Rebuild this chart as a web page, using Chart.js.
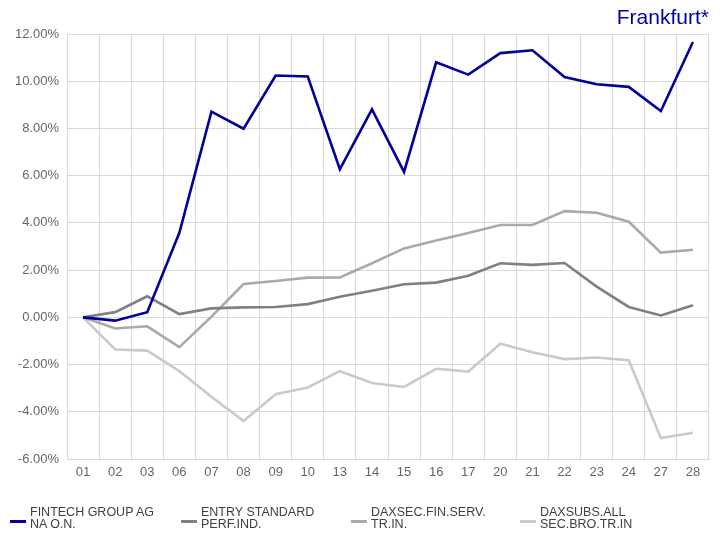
<!DOCTYPE html>
<html>
<head>
<meta charset="utf-8">
<script src="https://cdn.jsdelivr.net/npm/chart.js@4.4.1/dist/chart.umd.min.js"></script>
<style>
  html, body { margin: 0; padding: 0; background: #fff; }
  #wrap { position: relative; width: 724px; height: 533px; overflow: hidden; font-family: "Liberation Sans", Arial, sans-serif; }
  #c { position: absolute; left: 0; top: 0; }
  #title { position: absolute; right: 15px; top: 5px; font-size: 21px; line-height: 24px; color: #00009c; white-space: nowrap; }
  .lg { position: absolute; top: 506px; }
  .lg .mk { position: absolute; left: -20px; top: 14px; width: 16px; height: 3px; }
  .lg .tx { font-size: 12.5px; line-height: 12px; color: #404040; white-space: nowrap; }
</style>
</head>
<body>
<div id="wrap">
  <canvas id="c" width="724" height="533"></canvas>
  <div id="title">Frankfurt*</div>
  <div id="legend"></div>
</div>
<script>
const categories = ["01","02","03","06","07","08","09","10","13","14","15","16","17","20","21","22","23","24","27","28"];
const seriesNames = [["FINTECH GROUP AG","NA O.N."],["ENTRY STANDARD","PERF.IND."],["DAXSEC.FIN.SERV.","TR.IN."],["DAXSUBS.ALL","SEC.BRO.TR.IN"]];
const fintech   = [0, -0.14, 0.22, 3.58, 8.71, 7.99, 10.24, 10.20, 6.27, 8.81, 6.16, 10.80, 10.28, 11.19, 11.31, 10.18, 9.87, 9.76, 8.74, 11.66];
const entryStd  = [0, 0.22, 0.89, 0.14, 0.38, 0.42, 0.44, 0.56, 0.87, 1.13, 1.40, 1.47, 1.76, 2.29, 2.22, 2.30, 1.30, 0.44, 0.08, 0.51];
const daxsecFin = [0, -0.47, -0.38, -1.26, 0.03, 1.41, 1.54, 1.68, 1.69, 2.29, 2.92, 3.25, 3.57, 3.91, 3.91, 4.50, 4.43, 4.05, 2.74, 2.86];
const daxsubsBro= [0, -1.36, -1.41, -2.28, -3.36, -4.39, -3.26, -2.97, -2.28, -2.78, -2.95, -2.18, -2.30, -1.12, -1.48, -1.77, -1.70, -1.82, -5.11, -4.89];
const yTicks = [-6, -4, -2, 0, 2, 4, 6, 8, 10, 12];

const colors = ["#00009c", "#808080", "#a9a9a9", "#cacaca"];
const values = [fintech, entryStd, daxsecFin, daxsubsBro];
const legendX = [30, 201, 371, 540];

const FONT = "'Liberation Sans', Arial, sans-serif";

new Chart(document.getElementById('c'), {
  type: 'line',
  data: {
    labels: categories,
    datasets: values.map((v, i) => ({
      label: seriesNames[i].join(' '),
      data: v,
      borderColor: colors[i],
      backgroundColor: colors[i],
      borderWidth: 2.6,
      pointRadius: 0,
      tension: 0,
      fill: false
    }))
  },
  options: {
    responsive: false,
    animation: false,
    layout: { padding: { left: 0, right: 15, top: 34, bottom: 50 } },
    plugins: { legend: { display: false }, title: { display: false }, tooltip: { enabled: false } },
    scales: {
      x: {
        offset: true,
        grid: { offset: true, color: '#d9d9d9', lineWidth: 1, drawTicks: false },
        border: { display: true, color: '#d9d9d9' },
        ticks: { color: '#666666', font: { family: FONT, size: 13 }, padding: 6, maxRotation: 0, autoSkip: false },
        afterFit: s => { s.height = 24; }
      },
      y: {
        min: -6, max: 12,
        afterBuildTicks: s => { s.ticks = yTicks.map(v => ({ value: v })); },
        grid: { color: '#d9d9d9', lineWidth: 1, drawTicks: false },
        border: { display: true, color: '#d9d9d9' },
        ticks: { color: '#666666', font: { family: FONT, size: 13 }, padding: 8, callback: v => v.toFixed(2) + '%' },
        afterFit: s => { s.width = 67; }
      }
    }
  }
});

const lg = document.getElementById('legend');
seriesNames.forEach((n, i) => {
  const d = document.createElement('div');
  d.className = 'lg';
  d.style.left = legendX[i] + 'px';
  d.innerHTML = '<div class="mk" style="background:' + colors[i] + '"></div><div class="tx">' + n[0] + '<br>' + n[1] + '</div>';
  lg.appendChild(d);
});
</script>
</body>
</html>
